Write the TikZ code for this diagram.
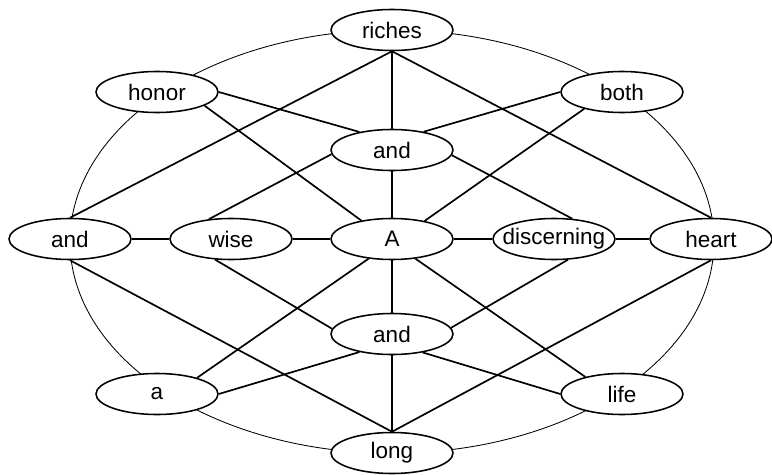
\documentclass[tikz,border=0pt]{standalone}
\usepackage{fontspec}
\setmainfont{Liberation Sans}
\usepackage{tikz}
\usetikzlibrary{shapes.geometric}
\usetikzlibrary{calc}

\tikzset{
	word/.style={ellipse, draw, fill=white, line width=1.1pt, minimum width=3.05cm, minimum height=1.025cm, inner sep=0pt, font=\fontsize{16}{18}\selectfont},
	edge/.style={line width=1.2pt},
	rim/.style={line width=0.6pt}
}

\begin{document}
\begin{tikzpicture}

	\useasboundingbox (0,0) rectangle (19.3,11.85);

	% outer ring behind the words
	\coordinate (ring) at (9.8,5.81);
	\draw[rim] (ring) ellipse [x radius=8.05, y radius=5.29];

	\node[word] (riches) at (9.8,11.1) {riches};
	\node[word] (honor) at (3.925,9.55) {honor};
	\node[word] (both) at (15.55,9.55) {both};
	\node[word] (andup) at (9.8,8.1) {and};
	\node[word] (andleft) at (1.75,5.875) {and};
	\node[word] (wise) at (5.775,5.875) {wise};
	\node[word] (A) at (9.8,5.875) {A};
	\node[word, inner xsep=-8pt] (discerning) at (13.85,5.875) {discerning};
	\node[word] (heart) at (17.775,5.875) {heart};
	\node[word] (anddown) at (9.8,3.5) {and};
	\node[word] (a) at (3.925,2.0) {a};
	\node[word] (life) at (15.55,2.0) {life};
	\node[word] (long) at (9.8,0.525) {long};

	\foreach \s/\t in {riches.south/andup.north, riches.south/andleft.north, riches.south/heart.north,
		honor.east/andup.151, honor.-16/A.149, both.west/andup.30, both.204/A.29,
		andup.184/wise.138, andup.south/A.north, andup.-5/discerning.48,
		andleft.east/wise.west, wise.east/A.west, A.east/discerning.west, discerning.east/heart.west,
		andleft.south/long.north, wise.232/anddown.175, A.south/anddown.north,
		A.220/a.22, A.-40/life.155, discerning.-56/anddown.6, heart.south/long.north,
		anddown.209/a.east, anddown.-31/life.west, anddown.south/long.north}{
		\draw[edge] (\s) -- (\t);
	}

\end{tikzpicture}
\end{document}
